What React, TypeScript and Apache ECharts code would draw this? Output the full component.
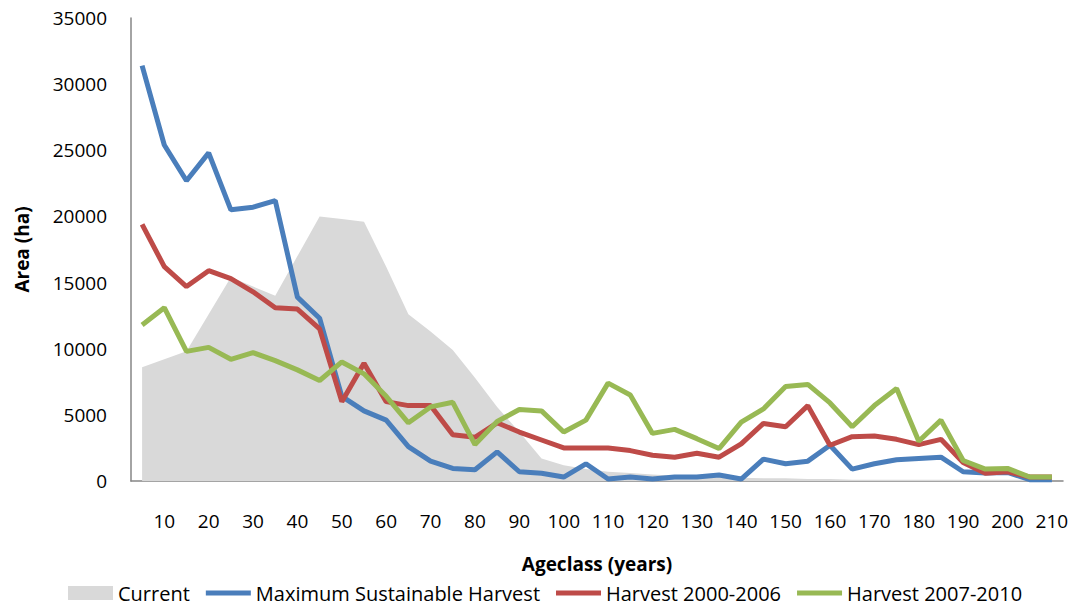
import React, { useEffect, useRef } from "react";
import * as echarts from "echarts";

// Age classes in 5-year steps
const ageClasses: string[] = [
  "5", "10", "15", "20", "25", "30", "35", "40", "45", "50",
  "55", "60", "65", "70", "75", "80", "85", "90", "95", "100",
  "105", "110", "115", "120", "125", "130", "135", "140", "145", "150",
  "155", "160", "165", "170", "175", "180", "185", "190", "195", "200",
  "205", "210",
];

// Area (ha) per age class
const current: number[] = [
  8600, 9200, 9800, 12600, 15400, 14700, 14000, 17000, 20000, 19800,
  19600, 16200, 12600, 11300, 9900, 7800, 5600, 3700, 1700, 1200,
  900, 700, 600, 500, 400, 350, 300, 250, 200, 200,
  150, 150, 100, 100, 100, 100, 100, 100, 100, 100,
  100, 100,
];

const maxSustainable: number[] = [
  31400, 25400, 22700, 24800, 20500, 20700, 21200, 13900, 12300, 6400,
  5300, 4600, 2600, 1500, 950, 850, 2200, 700, 580, 300,
  1300, 150, 300, 150, 300, 300, 450, 150, 1650, 1300,
  1500, 2700, 900, 1300, 1600, 1700, 1800, 700, 600, 650,
  100, 100,
];

const harvest2000: number[] = [
  19400, 16200, 14700, 15900, 15300, 14300, 13100, 13000, 11500, 6000,
  8900, 6000, 5700, 5700, 3500, 3300, 4400, 3700, 3100, 2500,
  2500, 2500, 2300, 1950, 1800, 2100, 1800, 2800, 4350, 4100,
  5700, 2700, 3350, 3400, 3150, 2750, 3150, 1400, 580, 700,
  300, 300,
];

const harvest2007: number[] = [
  11800, 13100, 9800, 10100, 9200, 9700, 9100, 8400, 7600, 9000,
  8100, 6400, 4400, 5600, 5950, 2750, 4500, 5400, 5300, 3700,
  4600, 7400, 6500, 3600, 3900, 3200, 2450, 4450, 5450, 7150,
  7300, 5900, 4100, 5700, 7000, 3000, 4600, 1550, 900, 950,
  300, 300,
];

const yTicks = { min: 0, max: 35000, interval: 5000 };

const FONT = "'Open Sans', sans-serif";
const LINE_ICON = "path://M0,0 L45,0 L45,5 L0,5 Z";

export default function App() {
  const ref = useRef<HTMLDivElement>(null);

  useEffect(() => {
    if (!ref.current) return;
    const chart = echarts.init(ref.current, undefined, { renderer: "svg" });
    chart.setOption({
      animation: false,
      backgroundColor: "#ffffff",
      textStyle: { fontFamily: FONT },
      grid: {
        left: 131,
        right: 12,
        top: 18,
        bottom: 125,
        containLabel: false,
        outerBoundsMode: "none",
      },
      legend: {
        left: 63,
        top: 578,
        itemWidth: 45,
        itemHeight: 14,
        itemGap: 16,
        textStyle: { fontFamily: FONT, fontSize: 20, color: "#000000" },
        data: [
          { name: "Current", icon: "rect" },
          { name: "Maximum Sustainable Harvest", icon: LINE_ICON },
          { name: "Harvest 2000-2006", icon: LINE_ICON },
          { name: "Harvest 2007-2010", icon: LINE_ICON },
        ],
      },
      xAxis: {
        type: "category",
        data: ageClasses,
        boundaryGap: true,
        name: "Ageclass (years)",
        nameLocation: "middle",
        nameGap: 73,
        nameTextStyle: { fontFamily: FONT, fontSize: 19, fontWeight: "bold", color: "#000000" },
        axisLine: { lineStyle: { color: "#868686", width: 1.5 } },
        axisTick: { show: false },
        axisLabel: {
          interval: (index: number) => index % 2 === 1,
          margin: 30,
          fontFamily: FONT,
          fontSize: 19,
          color: "#000000",
        },
        splitLine: { show: false },
      },
      yAxis: {
        type: "value",
        min: yTicks.min,
        max: yTicks.max,
        interval: yTicks.interval,
        name: "Area (ha)",
        nameLocation: "middle",
        nameGap: 100,
        nameRotate: 90,
        nameTextStyle: { fontFamily: FONT, fontSize: 19, fontWeight: "bold", color: "#000000" },
        axisLine: { show: true, lineStyle: { color: "#868686", width: 1.5 } },
        axisTick: { show: false },
        axisLabel: {
          margin: 24,
          fontFamily: FONT,
          fontSize: 19,
          color: "#000000",
          formatter: (v: number) => String(v),
        },
        splitLine: { show: false },
      },
      series: [
        {
          name: "Current",
          type: "line",
          data: current,
          symbol: "none",
          lineStyle: { width: 0, color: "#D9D9D9" },
          itemStyle: { color: "#D9D9D9" },
          areaStyle: { color: "#D9D9D9", opacity: 1 },
          z: 1,
        },
        {
          name: "Maximum Sustainable Harvest",
          type: "line",
          data: maxSustainable,
          symbol: "none",
          lineStyle: { width: 5, color: "#4A7EBB" },
          itemStyle: { color: "#4A7EBB" },
          z: 2,
        },
        {
          name: "Harvest 2000-2006",
          type: "line",
          data: harvest2000,
          symbol: "none",
          lineStyle: { width: 5, color: "#BE4B48" },
          itemStyle: { color: "#BE4B48" },
          z: 3,
        },
        {
          name: "Harvest 2007-2010",
          type: "line",
          data: harvest2007,
          symbol: "none",
          lineStyle: { width: 5, color: "#98B954" },
          itemStyle: { color: "#98B954" },
          z: 4,
        },
      ],
    });
    return () => chart.dispose();
  }, []);

  return (
    <div
      ref={ref}
      style={{ position: "absolute", left: 0, top: 0, width: 1075, height: 606 }}
    />
  );
}
